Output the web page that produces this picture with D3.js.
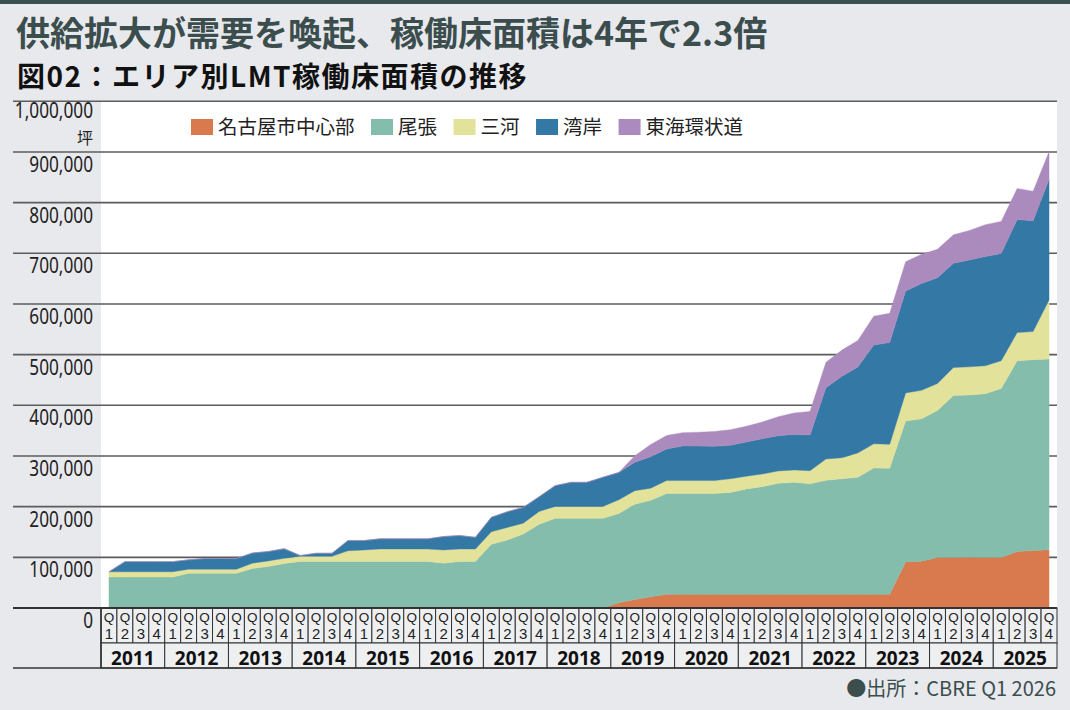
<!DOCTYPE html>
<html>
<head>
<meta charset="utf-8">
<script src="https://cdn.jsdelivr.net/npm/d3@7"></script>
<style>
  body { margin: 0; background: #e8e9ed; }
  svg { display: block; }
</style>
</head>
<body>
<div id="chart"></div>
<script>
// tick labels
const years = ["2011", "2012", "2013", "2014", "2015", "2016", "2017", "2018",
  "2019", "2020", "2021", "2022", "2023", "2024", "2025"];
const quarterNums = ["1", "2", "3", "4"];
const yTicks = [0, 100000, 200000, 300000, 400000, 500000, 600000, 700000, 800000, 900000, 1000000];

const seriesNames = ["名古屋市中心部", "尾張", "三河", "湾岸", "東海環状道"];
const seriesColors = ["#d97a4e", "#84bdab", "#e3e29b", "#3479a5", "#ab8bbd"];

// 坪, 2011Q1 .. 2025Q4
const nagoya = [
  0, 0, 0, 0, 0, 0, 0, 0, 0, 0, 0, 0, 0, 0, 0, 0,
  0, 0, 0, 0, 0, 0, 0, 0, 0, 0, 0, 0, 0, 0, 0, 0,
  10500, 17000, 22000,
  27000, 27000, 27000, 27000, 27000, 27000, 27000, 27000, 27000, 27000, 27000, 27000, 27000, 27000, 27000,
  91000, 92500, 99500, 99500, 100000, 99500, 99500, 111500, 113500, 115000];
const owari = [
  61000, 61000, 61000, 61000, 61000, 68500, 68500, 68500, 68500, 78000, 82000, 88000,
  92000, 92000, 92000, 92000, 92000, 92000, 92000, 92000, 92000, 88500, 92000, 92000,
  126000, 134000, 146000, 165500, 177000, 177000, 177000, 177000, 176000, 188000, 190500,
  199000, 199000, 199000, 199000, 201000, 208000, 212500, 219000, 221000, 218000,
  225000, 228000, 231000, 249500, 249000, 278000, 281000, 290500, 320000, 320500,
  323500, 333500, 376500, 376500, 376500];
const mikawa = [
  10500, 10500, 10500, 10500, 10500, 8000, 8000, 8000, 8000, 10500, 11000, 10000,
  10000, 10000, 10000, 21000, 22500, 24500, 24500, 24500, 24500, 26000, 24500, 24500,
  24500, 25000, 21500, 25000, 23500, 23500, 23500, 23500, 27000, 26500, 24000,
  25500, 25500, 25500, 25500, 27000, 25000, 25000, 24500, 24500, 26000,
  42000, 41500, 48000, 47500, 47000, 55500, 56000, 53000, 55000, 55500,
  55000, 55000, 55500, 55500, 116500];
const wangan = [
  0, 20000, 20000, 20000, 20000, 18500, 21000, 21000, 21000, 20000, 18500, 19000,
  1500, 6000, 6000, 20000, 18500, 20000, 20000, 20000, 20000, 26500, 26500, 23000,
  28500, 31000, 31000, 29000, 41000, 47500, 47500, 57500, 54000, 56000, 62000,
  62500, 68000, 68000, 67500, 66000, 67500, 69500, 69500, 70000, 70500,
  140500, 161000, 169500, 195000, 201000, 201000, 211000, 209000, 206000, 211000,
  215500, 211500, 223000, 219000, 237500];
const tokai = [
  0, 0, 0, 0, 0, 0, 0, 0, 0, 0, 0, 0, 0, 0, 0, 0,
  0, 0, 0, 0, 0, 0, 0, 0, 0, 0, 0, 0, 0, 0, 0, 0, 0,
  13000, 24000, 26500, 26500, 27500, 29500, 31000, 31000, 33000, 37500, 42500, 46500,
  50500, 51500, 52500, 57000, 57500, 58000, 57500, 56000, 56000, 58000,
  63000, 63500, 61500, 58000, 55000];

const seriesValues = [nagoya, owari, mikawa, wangan, tokai];

const W = 1070, H = 710;
const plot = { left: 101, right: 1057, top: 101.3, bottom: 608 };
const ink = "#222";
const slate = "#3b4d4d";
const jp = "'Noto Sans CJK JP', 'Noto Sans', sans-serif";
const latin = "'Noto Sans', 'Noto Sans CJK JP', sans-serif";
const cellFont = "'Liberation Sans', Arial, sans-serif";

const quarters = years.flatMap(y => quarterNums.map(q => y + "Q" + q));
const rows = quarters.map((q, i) => {
  const r = { q };
  seriesNames.forEach((s, k) => { r[s] = seriesValues[k][i]; });
  return r;
});

const svg = d3.select("#chart").append("svg")
  .attr("width", W).attr("height", H);

svg.append("rect").attr("width", W).attr("height", H).attr("fill", "#e8e9ed");
svg.append("rect").attr("width", W).attr("height", 4).attr("fill", "#3c4e4e");

// titles
svg.append("text")
  .attr("x", 16).attr("y", 46)
  .style("font-family", jp).style("font-weight", 700).style("font-size", "34px")
  .attr("fill", slate)
  .text("供給拡大が需要を喚起、稼働床面積は4年で2.3倍");
svg.append("text")
  .attr("x", 17).attr("y", 87)
  .style("font-family", jp).style("font-weight", 700).style("font-size", "28px")
  .style("letter-spacing", "1.5px")
  .attr("fill", "#111")
  .text("図02：エリア別LMT稼働床面積の推移");

const x = d3.scaleBand().domain(quarters).range([plot.left, plot.right]);
const xc = q => x(q) + x.bandwidth() / 2;
const y = d3.scaleLinear().domain([0, 1000000]).range([plot.bottom, plot.top]);

// plot background
svg.append("rect")
  .attr("x", plot.left).attr("y", plot.top)
  .attr("width", plot.right - plot.left).attr("height", plot.bottom - plot.top)
  .attr("fill", "#fff");

// grid lines
svg.append("g").selectAll("line")
  .data(yTicks.filter(d => d > 0))
  .join("line")
  .attr("x1", 13).attr("x2", plot.right)
  .attr("y1", d => y(d)).attr("y2", d => y(d))
  .attr("stroke", "#5c5c5c").attr("stroke-width", 1.6);

// stacked areas
const stacked = d3.stack().keys(seriesNames)(rows);
const area = d3.area()
  .x(d => xc(d.data.q))
  .y0(d => y(d[0]))
  .y1(d => y(d[1]));

svg.append("g").selectAll("path")
  .data(stacked)
  .join("path")
  .attr("d", area)
  .attr("fill", (d, i) => seriesColors[i])
  .attr("stroke", (d, i) => seriesColors[i])
  .attr("stroke-width", 0.4);

// y labels (top one nudged up to leave room for the unit)
svg.append("g").selectAll("text")
  .data(yTicks)
  .join("text")
  .attr("transform", d => `translate(93, ${y(d) + (d === 1000000 ? 17 : 20)}) scale(0.82, 1)`)
  .attr("text-anchor", "end")
  .style("font-family", latin).style("font-size", "21px")
  .attr("fill", ink)
  .text(d => d3.format(",")(d));
svg.append("text")
  .attr("x", 93).attr("y", y(1000000) + 43)
  .attr("text-anchor", "end")
  .style("font-family", jp).style("font-size", "16px")
  .attr("fill", ink)
  .text("坪");

// legend
const legend = svg.append("g").attr("transform", "translate(191, 127)");
let lx = 0;
seriesNames.forEach((name, i) => {
  const g = legend.append("g").attr("transform", `translate(${lx}, 0)`);
  g.append("rect").attr("x", 0).attr("y", -8).attr("width", 22).attr("height", 16)
    .attr("fill", seriesColors[i]);
  const t = g.append("text").attr("x", 27).attr("y", 7)
    .style("font-family", jp).style("font-size", "19.5px").attr("fill", ink)
    .text(name);
  lx += 27 + t.node().getComputedTextLength() + 16.5;
});

// quarter / year table
const qTop = plot.bottom, qBot = 643, yBot = 668;
const table = svg.append("g");
table.selectAll("rect.q")
  .data(quarters)
  .join("rect")
  .attr("class", "q")
  .attr("x", d => x(d)).attr("y", qTop)
  .attr("width", x.bandwidth()).attr("height", qBot - qTop)
  .attr("fill", "#eeeff1").attr("stroke", "#333").attr("stroke-width", 1);
table.selectAll("text.qq")
  .data(quarters)
  .join("text")
  .attr("class", "qq")
  .attr("x", d => xc(d)).attr("y", qTop + 13.5)
  .attr("text-anchor", "middle")
  .style("font-family", cellFont).style("font-size", "13.5px").attr("fill", ink)
  .text("Q");
table.selectAll("text.qn")
  .data(quarters)
  .join("text")
  .attr("class", "qn")
  .attr("x", d => xc(d)).attr("y", qTop + 30.5)
  .attr("text-anchor", "middle")
  .style("font-family", cellFont).style("font-size", "15px").attr("fill", ink)
  .text(d => d.slice(-1));

table.selectAll("rect.yr")
  .data(years)
  .join("rect")
  .attr("class", "yr")
  .attr("x", d => x(d + "Q1")).attr("y", qBot)
  .attr("width", x.bandwidth() * 4).attr("height", yBot - qBot)
  .attr("fill", "#eeeff1").attr("stroke", "#333").attr("stroke-width", 1);
table.selectAll("text.yr")
  .data(years)
  .join("text")
  .attr("class", "yr")
  .attr("x", d => x(d + "Q1") + x.bandwidth() * 2).attr("y", qBot + 21.5)
  .attr("text-anchor", "middle")
  .style("font-family", latin).style("font-weight", 700).style("font-size", "19px")
  .attr("fill", "#111")
  .text(d => d);

// zero line and table frame
svg.append("line").attr("x1", 13).attr("x2", plot.right)
  .attr("y1", plot.bottom).attr("y2", plot.bottom)
  .attr("stroke", "#333").attr("stroke-width", 2);
svg.append("line").attr("x1", 13).attr("x2", plot.right)
  .attr("y1", yBot).attr("y2", yBot)
  .attr("stroke", "#333").attr("stroke-width", 1.6);
svg.append("line").attr("x1", plot.left).attr("x2", plot.left)
  .attr("y1", plot.bottom).attr("y2", yBot)
  .attr("stroke", "#333").attr("stroke-width", 1.6);

// source
svg.append("text")
  .attr("x", 1056).attr("y", 696)
  .attr("text-anchor", "end")
  .style("font-family", jp).style("font-size", "20px")
  .attr("fill", slate)
  .text("●出所：CBRE Q1 2026");
</script>
</body>
</html>
